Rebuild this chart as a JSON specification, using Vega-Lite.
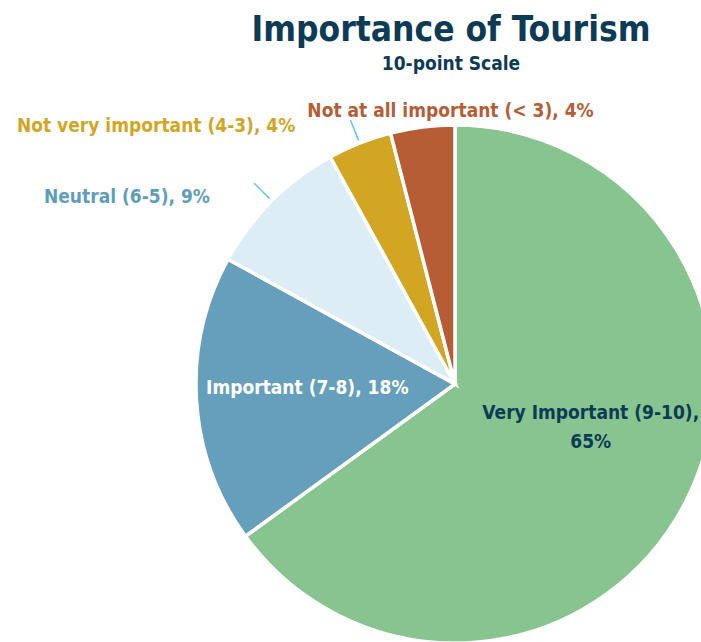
{
  "$schema": "https://vega.github.io/schema/vega-lite/v6.json",
  "width": 492,
  "height": 516,
  "autosize": {"type": "none"},
  "padding": {"left": 209, "top": 126, "right": 0, "bottom": 0},
  "background": "white",
  "config": {"view": {"stroke": null}, "font": "DejaVu Sans Condensed, Liberation Sans, sans-serif"},
  "title": {
    "text": "Importance of Tourism",
    "subtitle": "10-point Scale",
    "anchor": "middle",
    "frame": "group",
    "offset": 26,
    "dx": -4,
    "font": "DejaVu Sans Condensed, Liberation Sans, sans-serif",
    "fontSize": 35,
    "fontWeight": "bold",
    "color": "#0D3B56",
    "subtitleFont": "DejaVu Sans Condensed, Liberation Sans, sans-serif",
    "subtitleFontSize": 19,
    "subtitleFontWeight": "bold",
    "subtitleColor": "#0D3B56",
    "subtitlePadding": 7
  },
  "data": {
    "values": [
      {"cat": "Very Important (9-10)", "pct": 65, "o": 1, "label": ["Very Important (9-10),", "65%"]},
      {"cat": "Important (7-8)", "pct": 18, "o": 2, "label": "Important (7-8), 18%"},
      {"cat": "Neutral (6-5)", "pct": 9, "o": 3, "label": "Neutral (6-5), 9%"},
      {"cat": "Not very important (4-3)", "pct": 4, "o": 4, "label": "Not very important (4-3), 4%"},
      {"cat": "Not at all important (< 3)", "pct": 4, "o": 5, "label": "Not at all important (< 3), 4%"}
    ]
  },
  "encoding": {
    "theta": {"field": "pct", "type": "quantitative", "stack": true},
    "order": {"field": "o", "type": "quantitative"}
  },
  "layer": [
    {
      "mark": {"type": "arc", "outerRadius": 259, "stroke": "white", "strokeWidth": 3.5},
      "encoding": {
        "color": {
          "field": "cat",
          "type": "nominal",
          "scale": {
            "domain": ["Very Important (9-10)", "Important (7-8)", "Neutral (6-5)", "Not very important (4-3)", "Not at all important (< 3)"],
            "range": ["#88C48F", "#659FBC", "#DDEDF5", "#D2A523", "#B65D36"]
          },
          "legend": null
        }
      }
    },
    {
      "mark": {"type": "arc", "innerRadius": 262, "outerRadius": 284, "padAngle": 1, "filled": false, "stroke": "#5BC5F2", "strokeWidth": 1.5},
      "encoding": {
        "strokeOpacity": {"condition": {"test": "datum.o == 3 || datum.o == 4", "value": 1}, "value": 0}
      }
    },
    {
      "mark": {"type": "text", "radius": 140, "dx": 11, "dy": -35, "fontSize": 19, "fontWeight": "bold", "color": "#0D3B56", "lineHeight": 29, "align": "center", "baseline": "middle"},
      "encoding": {"text": {"condition": {"test": "datum.o == 1", "field": "label", "type": "nominal"}, "value": ""}}
    },
    {
      "mark": {"type": "text", "radius": 148, "dx": 0, "dy": -5, "fontSize": 19, "fontWeight": "bold", "color": "#FFFFFF", "align": "center", "baseline": "middle"},
      "encoding": {"text": {"condition": {"test": "datum.o == 2", "field": "label", "type": "nominal"}, "value": ""}}
    },
    {
      "mark": {"type": "text", "radius": 290, "dx": -40, "dy": 18, "fontSize": 19, "fontWeight": "bold", "color": "#5F9DBD", "align": "right", "baseline": "middle"},
      "encoding": {"text": {"condition": {"test": "datum.o == 3", "field": "label", "type": "nominal"}, "value": ""}}
    },
    {
      "mark": {"type": "text", "radius": 276, "dx": -58, "dy": -1, "fontSize": 19, "fontWeight": "bold", "color": "#D2A523", "align": "right", "baseline": "middle"},
      "encoding": {"text": {"condition": {"test": "datum.o == 4", "field": "label", "type": "nominal"}, "value": ""}}
    },
    {
      "mark": {"type": "text", "radius": 275, "dx": 30, "dy": 0, "fontSize": 19, "fontWeight": "bold", "color": "#B65D36", "align": "center", "baseline": "middle"},
      "encoding": {"text": {"condition": {"test": "datum.o == 5", "field": "label", "type": "nominal"}, "value": ""}}
    }
  ]
}
